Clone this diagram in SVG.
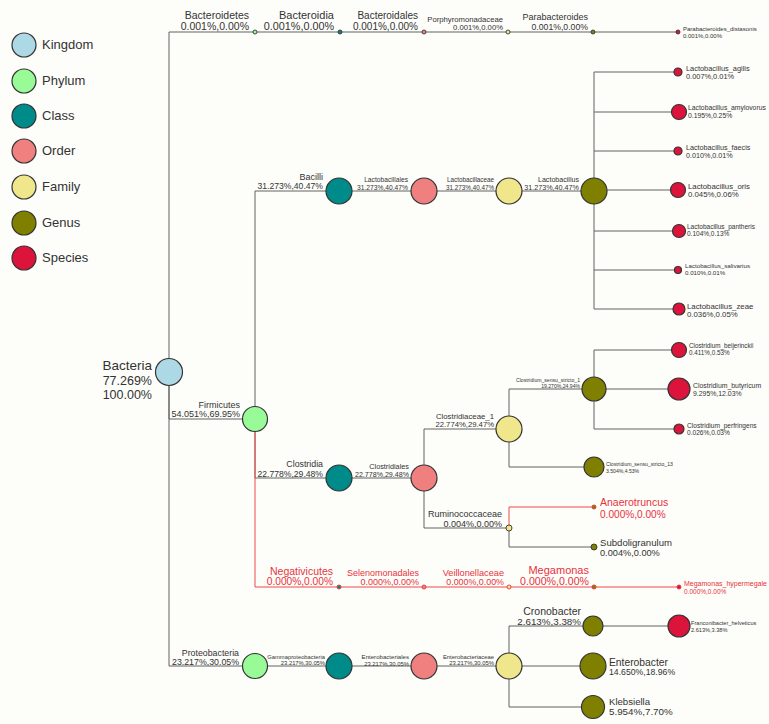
<svg xmlns="http://www.w3.org/2000/svg" width="769" height="724" viewBox="0 0 769 724">
<style>
.ln{fill:none;stroke:#626262;stroke-width:1}
.lr{fill:none;stroke:#f04848;stroke-width:1}
circle{stroke:#333;stroke-width:1.2}
.sm{stroke-width:0.9}
.rs{stroke:#e8323c}
.k{fill:#add8e6}.p{fill:#98fb98}.c{fill:#008b8b}.o{fill:#f08080}.f{fill:#f0e68c}.g{fill:#808000}.s{fill:#dc143c}
text{font-family:"Liberation Sans",Arial,sans-serif;fill:#333}
.e{text-anchor:end}
.r{fill:#e8323c}
</style>
<rect width="769" height="724" fill="#fdfdfa"/>
<g id="legend">
<circle class="k" cx="24" cy="45" r="12"/><text x="42" y="49" font-size="13">Kingdom</text>
<circle class="p" cx="24" cy="81" r="12"/><text x="42" y="85" font-size="13">Phylum</text>
<circle class="c" cx="24" cy="116" r="12"/><text x="42" y="120" font-size="13">Class</text>
<circle class="o" cx="24" cy="151" r="12"/><text x="42" y="155" font-size="13">Order</text>
<circle class="f" cx="24" cy="187" r="12"/><text x="42" y="191" font-size="13">Family</text>
<circle class="g" cx="24" cy="223" r="12"/><text x="42" y="227" font-size="13">Genus</text>
<circle class="s" cx="24" cy="258" r="12"/><text x="42" y="262" font-size="13">Species</text>
</g>
<g id="connectors">
<path class="ln" d="M169 372V32H678M169 372V419H255M169 372V666H509"/>
<path class="ln" d="M255 419V191H594M255 419V478H424"/>
<path class="ln" d="M594 191V72H678M594 112H679M594 151H678M594 190H678M594 231H679M594 270H678M594 309V191M594 309H679"/>
<path class="ln" d="M424 478V429H509M424 478V528H509M509 429V389H679M509 429V467H594M594 389V350H679M594 389V429H679M509 528V547H594"/>
<path class="ln" d="M509 666V626H679M509 666H593M509 666V707H593"/>
<path class="lr" d="M255 432V587H679M509 528V507H594"/>
</g>
<g id="n-bacteria"><circle class="k" cx="169" cy="372" r="13.5"/><text class="e" font-size="13.5"><tspan x="152" y="370">Bacteria</tspan><tspan x="152" y="385" font-size="12.5">77.269%</tspan><tspan x="152" y="399" font-size="12.5">100.00%</tspan></text></g>
<g id="n-bacteroidetes"><circle class="p sm" cx="255" cy="32" r="2"/><text class="e" font-size="10.5"><tspan x="249" y="19">Bacteroidetes</tspan><tspan x="249" y="30">0.001%,0.00%</tspan></text></g>
<g id="n-firmicutes"><circle class="p" cx="255" cy="419" r="12.5"/><text class="e" font-size="9"><tspan x="240" y="408">Firmicutes</tspan><tspan x="240" y="417">54.051%,69.95%</tspan></text></g>
<g id="n-proteobacteria"><circle class="p" cx="255" cy="666" r="12.5"/><text class="e" font-size="8.8"><tspan x="239" y="656">Proteobacteria</tspan><tspan x="239" y="665">23.217%,30.05%</tspan></text></g>
<g id="n-bacteroidia"><circle class="c sm" cx="340" cy="32" r="2"/><text class="e" font-size="11"><tspan x="334" y="19">Bacteroidia</tspan><tspan x="334" y="30" font-size="10.8">0.001%,0.00%</tspan></text></g>
<g id="n-bacilli"><circle class="c" cx="339" cy="191" r="13"/><text class="e" font-size="9"><tspan x="323" y="179.5">Bacilli</tspan><tspan x="323" y="189" font-size="8.6">31.273%,40.47%</tspan></text></g>
<g id="n-clostridia"><circle class="c" cx="339" cy="478" r="13"/><text class="e" font-size="8.8"><tspan x="323" y="467">Clostridia</tspan><tspan x="323" y="477" font-size="8.6">22.778%,29.48%</tspan></text></g>
<g id="n-negativicutes"><circle class="c sm rs" cx="339" cy="587" r="2"/><text class="e r" font-size="10.5"><tspan x="333" y="575">Negativicutes</tspan><tspan x="333" y="585" font-size="10.2">0.000%,0.00%</tspan></text></g>
<g id="n-gammaproteobacteria"><circle class="c" cx="339" cy="666" r="13"/><text class="e" font-size="5.8"><tspan x="325" y="659">Gammaproteobacteria</tspan><tspan x="325" y="665">23.217%,30.05%</tspan></text></g>
<g id="n-bacteroidales"><circle class="o sm" cx="424" cy="32" r="2"/><text class="e" font-size="10"><tspan x="418" y="19">Bacteroidales</tspan><tspan x="418" y="30">0.001%,0.00%</tspan></text></g>
<g id="n-lactobacillales"><circle class="o" cx="424" cy="191" r="13"/><text class="e" font-size="6.7"><tspan x="408" y="182">Lactobacillales</tspan><tspan x="408" y="190">31.273%,40.47%</tspan></text></g>
<g id="n-clostridiales"><circle class="o" cx="424" cy="478" r="13"/><text class="e" font-size="7.3"><tspan x="409" y="469">Clostridiales</tspan><tspan x="409" y="477" font-size="7.1">22.778%,29.48%</tspan></text></g>
<g id="n-selenomonadales"><circle class="o sm rs" cx="424" cy="587" r="2"/><text class="e r" font-size="9"><tspan x="419" y="576">Selenomonadales</tspan><tspan x="419" y="585">0.000%,0.00%</tspan></text></g>
<g id="n-enterobacteriales"><circle class="o" cx="424" cy="666" r="13"/><text class="e" font-size="6.1"><tspan x="409" y="659">Enterobacteriales</tspan><tspan x="409" y="666" font-size="5.9">23.217%,30.05%</tspan></text></g>
<g id="n-porphyromonadaceae"><circle class="f sm" cx="508" cy="32" r="2"/><text class="e" font-size="7.7"><tspan x="503" y="22">Porphyromonadaceae</tspan><tspan x="503" y="30">0.001%,0.00%</tspan></text></g>
<g id="n-lactobacillaceae"><circle class="f" cx="509" cy="191" r="13"/><text class="e" font-size="6.3"><tspan x="494" y="182">Lactobacillaceae</tspan><tspan x="494" y="190">31.273%,40.47%</tspan></text></g>
<g id="n-clostridiaceae1"><circle class="f" cx="509" cy="429" r="13"/><text class="e" font-size="7.8"><tspan x="494" y="419">Clostridiaceae_1</tspan><tspan x="494" y="427" font-size="7.7">22.774%,29.47%</tspan></text></g>
<g id="n-ruminococcaceae"><circle class="f sm" cx="509" cy="528" r="3"/><text class="e" font-size="9"><tspan x="502" y="517">Ruminococcaceae</tspan><tspan x="502" y="527">0.004%,0.00%</tspan></text></g>
<g id="n-veillonellaceae"><circle class="f sm rs" cx="509" cy="587" r="2"/><text class="e r" font-size="9.2"><tspan x="504" y="576">Veillonellaceae</tspan><tspan x="504" y="585" font-size="8.9">0.000%,0.00%</tspan></text></g>
<g id="n-enterobacteriaceae"><circle class="f" cx="509" cy="666" r="13"/><text class="e" font-size="5.9"><tspan x="494" y="659">Enterobacteriaceae</tspan><tspan x="494" y="665">23.217%,30.05%</tspan></text></g>
<g id="n-parabacteroides"><circle class="g sm" cx="593" cy="32" r="2"/><text class="e" font-size="9"><tspan x="588" y="20">Parabacteroides</tspan><tspan x="588" y="30" font-size="8.7">0.001%,0.00%</tspan></text></g>
<g id="n-lactobacillus"><circle class="g" cx="594" cy="191" r="13"/><text class="e" font-size="7.1"><tspan x="579" y="182">Lactobacillus</tspan><tspan x="579" y="190" font-size="7.2">31.273%,40.47%</tspan></text></g>
<g id="n-css1"><circle class="g" cx="594" cy="389" r="12"/><text class="e" font-size="5.1"><tspan x="580" y="382">Clostridium_sensu_stricto_1</tspan><tspan x="580" y="388">19.270%,24.94%</tspan></text></g>
<g id="n-css13"><circle class="g" cx="594" cy="467" r="10"/><text font-size="5.1"><tspan x="606" y="466">Clostridium_sensu_stricto_13</tspan><tspan x="606" y="473">3.504%,4.53%</tspan></text></g>
<g id="n-anaerotruncus"><circle class="g sm rs" cx="594" cy="507" r="2"/><text class="r" font-size="10.5"><tspan x="600" y="506">Anaerotruncus</tspan><tspan x="600" y="518" font-size="10.1">0.000%,0.00%</tspan></text></g>
<g id="n-subdoligranulum"><circle class="g sm" cx="594" cy="547" r="3"/><text font-size="9.6"><tspan x="600" y="546">Subdoligranulum</tspan><tspan x="600" y="556" font-size="9.2">0.004%,0.00%</tspan></text></g>
<g id="n-megamonas"><circle class="g sm rs" cx="594" cy="587" r="2"/><text class="e r" font-size="11"><tspan x="589" y="574">Megamonas</tspan><tspan x="589" y="585" font-size="10.6">0.000%,0.00%</tspan></text></g>
<g id="n-cronobacter"><circle class="g" cx="593" cy="626" r="10"/><text class="e" font-size="10.5"><tspan x="581" y="615">Cronobacter</tspan><tspan x="581" y="625" font-size="9.8">2.613%,3.38%</tspan></text></g>
<g id="n-enterobacter"><circle class="g" cx="593" cy="666" r="13"/><text font-size="10.3"><tspan x="609" y="666">Enterobacter</tspan><tspan x="609" y="675" font-size="8.7">14.650%,18.96%</tspan></text></g>
<g id="n-klebsiella"><circle class="g" cx="593" cy="707" r="11.5"/><text font-size="9.6"><tspan x="609" y="705">Klebsiella</tspan><tspan x="609" y="715" font-size="9.8">5.954%,7.70%</tspan></text></g>
<g id="n-p-distasonis"><circle class="s sm" cx="678" cy="32" r="2"/><text font-size="6"><tspan x="683" y="31">Parabacteroides_distasonis</tspan><tspan x="683" y="38">0.001%,0.00%</tspan></text></g>
<g id="n-l-agilis"><circle class="s" cx="678" cy="72" r="4"/><text font-size="7.4"><tspan x="686" y="71">Lactobacillus_agilis</tspan><tspan x="686" y="79">0.007%,0.01%</tspan></text></g>
<g id="n-l-amylovorus"><circle class="s" cx="679" cy="112" r="7.5"/><text font-size="6.8"><tspan x="688" y="110">Lactobacillus_amylovorus</tspan><tspan x="688" y="118">0.195%,0.25%</tspan></text></g>
<g id="n-l-faecis"><circle class="s" cx="678" cy="151" r="4"/><text font-size="7.2"><tspan x="686" y="150">Lactobacillus_faecis</tspan><tspan x="686" y="158">0.010%,0.01%</tspan></text></g>
<g id="n-l-oris"><circle class="s" cx="678" cy="190" r="7.5"/><text font-size="7.8"><tspan x="688" y="189">Lactobacillus_oris</tspan><tspan x="688" y="197">0.045%,0.06%</tspan></text></g>
<g id="n-l-pantheris"><circle class="s" cx="679" cy="231" r="6.5"/><text font-size="6.5"><tspan x="687" y="229">Lactobacillus_pantheris</tspan><tspan x="687" y="236">0.104%,0.13%</tspan></text></g>
<g id="n-l-salivarius"><circle class="s" cx="678" cy="270" r="3.5"/><text font-size="6.2"><tspan x="685" y="268">Lactobacillus_salivarius</tspan><tspan x="685" y="275">0.010%,0.01%</tspan></text></g>
<g id="n-l-zeae"><circle class="s" cx="679" cy="309" r="6"/><text font-size="7.8"><tspan x="687" y="309">Lactobacillus_zeae</tspan><tspan x="687" y="317">0.036%,0.05%</tspan></text></g>
<g id="n-c-beijerinckii"><circle class="s" cx="679" cy="350" r="7.5"/><text font-size="6.3"><tspan x="689" y="348">Clostridium_beijerinckii</tspan><tspan x="689" y="355">0.411%,0.53%</tspan></text></g>
<g id="n-c-butyricum"><circle class="s" cx="679" cy="389" r="11"/><text font-size="6.9"><tspan x="693" y="388">Clostridium_butyricum</tspan><tspan x="693" y="396">9.295%,12.03%</tspan></text></g>
<g id="n-c-perfringens"><circle class="s" cx="679" cy="429" r="5"/><text font-size="6.6"><tspan x="687" y="428">Clostridium_perfringens</tspan><tspan x="687" y="435">0.026%,0.03%</tspan></text></g>
<g id="n-m-hypermegale"><circle class="s sm rs" cx="679" cy="587" r="2"/><text class="r" font-size="7"><tspan x="684" y="586">Megamonas_hypermegale</tspan><tspan x="684" y="594" font-size="6.5">0.000%,0.00%</tspan></text></g>
<g id="n-f-helveticus"><circle class="s" cx="679" cy="626" r="11"/><text font-size="5.6"><tspan x="691" y="625">Franconibacter_helveticus</tspan><tspan x="691" y="632">2.613%,3.38%</tspan></text></g>
</svg>
